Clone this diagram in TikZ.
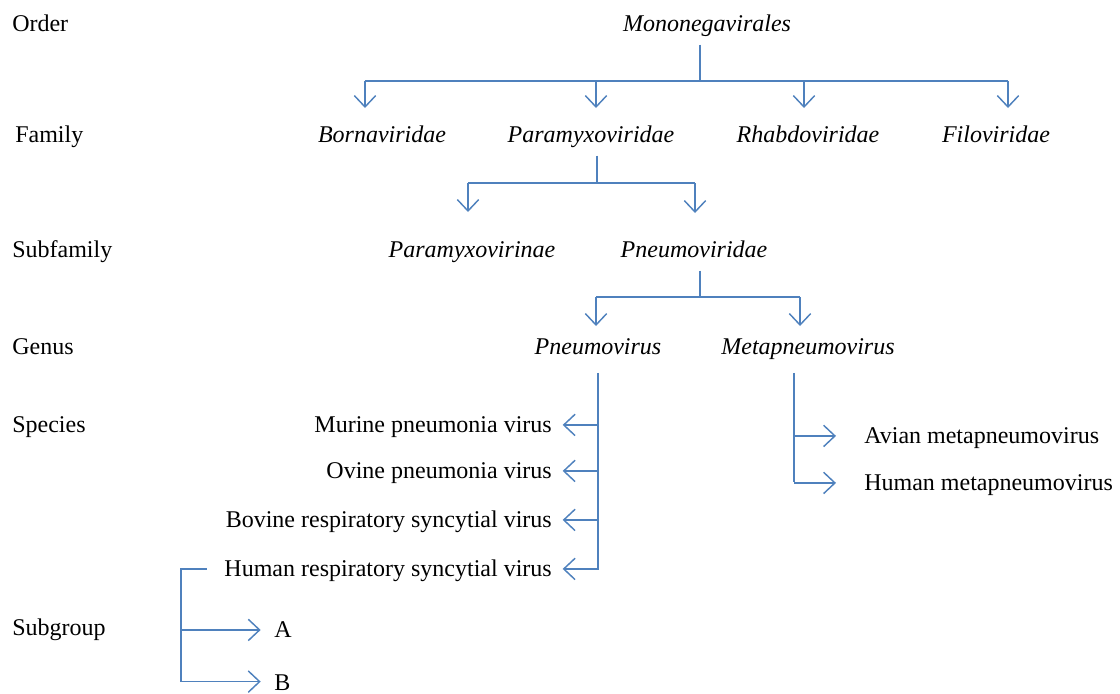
\documentclass[tikz,border=0pt]{standalone}
\usepackage{fontspec}
\setmainfont{Liberation Serif}
\usetikzlibrary{arrows.meta}
\definecolor{lnblue}{RGB}{79,129,189}
\begin{document}
\begin{tikzpicture}[x=0.75pt,y=-0.75pt,
    lbl/.style={font=\fontsize{18}{22}\selectfont,inner sep=0pt,text height=12.6pt,text depth=2pt},
    taxon/.style={lbl,font=\fontsize{18}{22}\selectfont\itshape,anchor=base},
    ln/.style={lnblue,line width=1.1pt},
    arr/.style={ln,-{Straight Barb[length=8.5pt,width=16pt,line width=1.1pt]}}]
  \useasboundingbox (0,0) rectangle (1120,693);
  % ranks
  \node[lbl,anchor=base west] (order) at (12,31) {Order};
  \node[lbl,anchor=base west] (family) at (15,142) {Family};
  \node[lbl,anchor=base west] (subfam) at (12,257) {Subfamily};
  \node[lbl,anchor=base west] (genus) at (12,354) {Genus};
  \node[lbl,anchor=base west] (species) at (12,432) {Species};
  \node[lbl,anchor=base west] (subgrp) at (12,635) {Subgroup};
  % taxa
  \node[taxon] (mono) at (707,31) {Mononegavirales};
  \node[taxon] (born) at (382,142) {Bornaviridae};
  \node[taxon] (para) at (591,142) {Paramyxoviridae};
  \node[taxon] (rhab) at (808,142) {Rhabdoviridae};
  \node[taxon] (filo) at (996,142) {Filoviridae};
  \node[taxon] (pmxv) at (472,257) {Paramyxovirinae};
  \node[taxon] (pneu) at (694,257) {Pneumoviridae};
  \node[taxon] (pvir) at (598,354) {Pneumovirus};
  \node[taxon] (mpv) at (808,354) {Metapneumovirus};
  \node[lbl,anchor=base east] (mur) at (552,432) {Murine pneumonia virus};
  \node[lbl,anchor=base east] (ovi) at (552,478) {Ovine pneumonia virus};
  \node[lbl,anchor=base east] (bov) at (552,527) {Bovine respiratory syncytial virus};
  \node[lbl,anchor=base east] (hrsv) at (552,576) {Human respiratory syncytial virus};
  \node[lbl,anchor=base west] (avian) at (864,443) {Avian metapneumovirus};
  \node[lbl,anchor=base west] (hmpv) at (864,490) {Human metapneumovirus};
  \node[lbl,anchor=base west] (subA) at (274,637) {A};
  \node[lbl,anchor=base west,text depth=0pt] (subB) at (274,690) {B};
  % order -> families
  \coordinate (bar1) at (700,81);
  \coordinate (tBorn) at (365,108);
  \coordinate (tPara) at (596,108);
  \coordinate (tRhab) at (804,108);
  \coordinate (tFilo) at (1008,108);
  \draw[ln] ([yshift=-8pt]mono.south -| bar1) -- (bar1);
  \draw[ln] (tBorn |- bar1) -- (tFilo |- bar1);
  \foreach \t in {tBorn,tPara,tRhab,tFilo} \draw[arr] (\t |- bar1) -- (\t);
  % family -> subfamilies
  \coordinate (bar2) at (597,183);
  \coordinate (tPmxv) at (468,212);
  \coordinate (tPneu) at (695,213);
  \draw[ln] ([yshift=-8pt]para.south -| bar2) -- (bar2);
  \draw[ln] (tPmxv |- bar2) -- (tPneu |- bar2);
  \foreach \t in {tPmxv,tPneu} \draw[arr] (\t |- bar2) -- (\t);
  % subfamily -> genera
  \coordinate (bar3) at (700,297);
  \coordinate (tPvir) at (596,326);
  \coordinate (tMpv) at (800,326);
  \draw[ln] ([yshift=-8pt]pneu.south -| bar3) -- (bar3);
  \draw[ln] (tPvir |- bar3) -- (tMpv |- bar3);
  \foreach \t in {tPvir,tMpv} \draw[arr] (\t |- bar3) -- (\t);
  % genus -> species
  \coordinate (bar4) at (598,570);
  \draw[ln] ([yshift=-12pt]pvir.south -| bar4) -- (bar4);
  \foreach \s in {mur,ovi,bov,hrsv} \draw[arr] (\s.east -| bar4) -- ([xshift=8pt]\s.east);
  \coordinate (bar5) at (794,482);
  \draw[ln] ([yshift=-12pt]mpv.south -| bar5) -- (bar5);
  \foreach \s in {avian,hmpv} \draw[arr] (\s.west -| bar5) -- ([xshift=-21pt]\s.west);
  % species -> subgroups
  \coordinate (bar6) at (181,682);
  \draw[ln] ([xshift=-13pt]hrsv.west) -| (bar6);
  \foreach \s in {subA,subB} \draw[arr] (\s.west -| bar6) -- ([xshift=-10pt]\s.west);
\end{tikzpicture}
\end{document}
